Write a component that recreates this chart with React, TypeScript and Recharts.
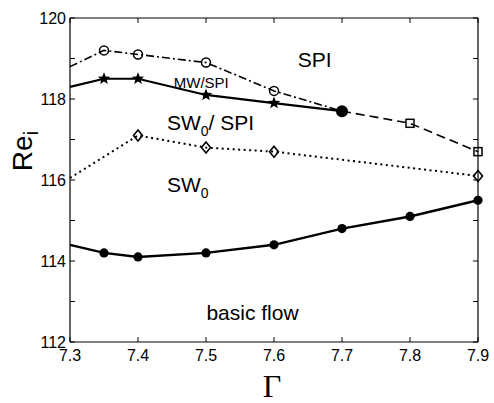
import React from 'react';
import { LineChart, Line, XAxis, YAxis, ReferenceDot } from 'recharts';

const gammaTicks = [7.3, 7.4, 7.5, 7.6, 7.7, 7.8, 7.9];
const reTicks = [112, 113, 114, 115, 116, 117, 118, 119, 120];
const reLabelTicks = [112, 114, 116, 118, 120];

const basicGamma = [7.3, 7.35, 7.4, 7.5, 7.6, 7.7, 7.8, 7.9];
const basicRe = [114.4, 114.2, 114.1, 114.2, 114.4, 114.8, 115.1, 115.5];
const sw0Gamma = [7.3, 7.4, 7.5, 7.6, 7.9];
const sw0Re = [116.05, 117.1, 116.8, 116.7, 116.1];
const mwGamma = [7.3, 7.35, 7.4, 7.5, 7.6, 7.7];
const mwRe = [118.3, 118.5, 118.5, 118.1, 117.9, 117.7];
const spiGamma = [7.3, 7.35, 7.4, 7.5, 7.6, 7.7];
const spiRe = [118.8, 119.2, 119.1, 118.9, 118.2, 117.7];
const dashGamma = [7.7, 7.8, 7.9];
const dashRe = [117.7, 117.4, 116.7];

const toRows = (g: number[], r: number[]) => g.map((x, i) => ({ g: x, re: r[i] }));

const basicData = toRows(basicGamma, basicRe);
const sw0Data = toRows(sw0Gamma, sw0Re);
const mwData = toRows(mwGamma, mwRe);
const spiData = toRows(spiGamma, spiRe);
const dashData = toRows(dashGamma, dashRe);

const X_MIN = gammaTicks[0];
const X_MAX = gammaTicks[gammaTicks.length - 1];
const Y_MIN = reTicks[0];
const Y_MAX = reTicks[reTicks.length - 1];

// layout constants
const CHART_W = 494;
const CHART_H = 403;
const MARGIN = { top: 18, right: 16, bottom: 0, left: 0 };
const XAXIS_H = 61;
const YAXIS_W = 70;
const PLOT_W = CHART_W - MARGIN.left - MARGIN.right - YAXIS_W;
const PLOT_H = CHART_H - MARGIN.top - MARGIN.bottom - XAXIS_H;
const TICK_LEN = 5;

const FONT = '"Liberation Sans", Arial, Helvetica, sans-serif';
const INK = '#000';

const empty = (p: any) => <g key={`e-${p.index}`} />;

const filledDot = (p: any) =>
  p.index === 0 ? empty(p) : <circle key={`b-${p.index}`} cx={p.cx} cy={p.cy} r={4.6} fill={INK} />;

const starPoints = (cx: number, cy: number, ro: number, ri: number) => {
  const pts: string[] = [];
  for (let k = 0; k < 10; k++) {
    const r = k % 2 === 0 ? ro : ri;
    const a = -Math.PI / 2 + (k * Math.PI) / 5;
    pts.push(`${cx + r * Math.cos(a)},${cy + r * Math.sin(a)}`);
  }
  return pts.join(' ');
};

const starDot = (p: any) =>
  p.index === 0 || p.index === mwData.length - 1 ? (
    empty(p)
  ) : (
    <polygon key={`s-${p.index}`} points={starPoints(p.cx, p.cy, 6.5, 2.8)} fill={INK} />
  );

const openCircle = (p: any) =>
  p.index === 0 || p.index === spiData.length - 1 ? (
    empty(p)
  ) : (
    <circle key={`o-${p.index}`} cx={p.cx} cy={p.cy} r={4.5} fill="none" stroke={INK} strokeWidth={1.5} />
  );

const diamondDot = (p: any) =>
  p.index === 0 ? (
    empty(p)
  ) : (
    <polygon
      key={`d-${p.index}`}
      points={`${p.cx},${p.cy - 5.5} ${p.cx + 4.5},${p.cy} ${p.cx},${p.cy + 5.5} ${p.cx - 4.5},${p.cy}`}
      fill="none"
      stroke={INK}
      strokeWidth={1.6}
    />
  );

const squareDot = (p: any) =>
  p.index === 0 ? (
    <circle key={`q-${p.index}`} cx={p.cx} cy={p.cy} r={6} fill={INK} />
  ) : (
    <rect key={`q-${p.index}`} x={p.cx - 4} y={p.cy - 4} width={8} height={8} fill="none" stroke={INK} strokeWidth={1.5} />
  );

// bottom axis tick: inward tick at bottom, mirrored tick at top, label; last tick also draws right border
const BottomTick = (p: any) => {
  const top = p.y - PLOT_H;
  const isLast = p.payload.value === X_MAX;
  return (
    <g>
      <line x1={p.x} x2={p.x} y1={p.y} y2={p.y - TICK_LEN} stroke={INK} strokeWidth={1} />
      <line x1={p.x} x2={p.x} y1={top} y2={top + TICK_LEN} stroke={INK} strokeWidth={1} />
      {isLast ? <line x1={p.x} x2={p.x} y1={p.y} y2={top} stroke={INK} strokeWidth={1.2} /> : null}
      <text x={p.x} y={p.y + 19} textAnchor="middle" fontFamily={FONT} fontSize={16} fill={INK}>
        {p.payload.value}
      </text>
    </g>
  );
};

// left axis tick: inward tick at left, mirrored tick at right, label; top tick also draws top border
const LeftTick = (p: any) => {
  const right = p.x + PLOT_W;
  const isTop = p.payload.value === Y_MAX;
  return (
    <g>
      <line x1={p.x} x2={p.x + TICK_LEN} y1={p.y} y2={p.y} stroke={INK} strokeWidth={1} />
      <line x1={right} x2={right - TICK_LEN} y1={p.y} y2={p.y} stroke={INK} strokeWidth={1} />
      {isTop ? <line x1={p.x} x2={right} y1={p.y} y2={p.y} stroke={INK} strokeWidth={1.2} /> : null}
      {reLabelTicks.includes(p.payload.value) ? (
        <text x={p.x - 4} y={p.y + 6} textAnchor="end" fontFamily={FONT} fontSize={16} fill={INK}>
          {p.payload.value}
        </text>
      ) : null}
    </g>
  );
};

const textShape = (content: React.ReactNode, anchor: string, size: number) => (p: any) => (
  <text x={p.cx} y={p.cy} textAnchor={anchor} fontFamily={FONT} fontSize={size} fill={INK}>
    {content}
  </text>
);

const YLabel = () => (
  <text
    x={32}
    y={151}
    transform="rotate(-90 32 151)"
    textAnchor="middle"
    fontFamily={FONT}
    fontSize={28}
    fill={INK}
  >
    Re
    <tspan fontSize={20} dy={6}>i</tspan>
  </text>
);

const XLabel = () => (
  <text x={272} y={397} textAnchor="middle" fontFamily='"Liberation Serif", "Times New Roman", serif' fontSize={32} fill={INK}>
    Γ
  </text>
);

export default function App() {
  return (
    <div style={{ position: 'absolute', left: 0, top: 0, width: CHART_W, height: CHART_H, background: '#fff' }}>
      <LineChart width={CHART_W} height={CHART_H} margin={MARGIN}>
        <XAxis
          dataKey="g"
          type="number"
          domain={[X_MIN, X_MAX]}
          ticks={gammaTicks}
          height={XAXIS_H}
          tickSize={0}
          tickMargin={0}
          tick={<BottomTick />}
          axisLine={{ stroke: INK, strokeWidth: 1.2 }}
          tickLine={false}
          interval={0}
          label={<XLabel />}
        />
        <YAxis
          type="number"
          domain={[Y_MIN, Y_MAX]}
          ticks={reTicks}
          width={YAXIS_W}
          tickSize={0}
          tickMargin={0}
          tick={<LeftTick />}
          axisLine={{ stroke: INK, strokeWidth: 1.2 }}
          tickLine={false}
          interval={0}
          label={<YLabel />}
        />
        <Line data={basicData} dataKey="re" stroke={INK} strokeWidth={2.4} dot={filledDot} isAnimationActive={false} />
        <Line data={sw0Data} dataKey="re" stroke={INK} strokeWidth={2} strokeDasharray="2 3.5" dot={diamondDot} isAnimationActive={false} />
        <Line data={spiData} dataKey="re" stroke={INK} strokeWidth={1.6} strokeDasharray="8 3 2 3" dot={openCircle} isAnimationActive={false} />
        <Line data={mwData} dataKey="re" stroke={INK} strokeWidth={2.2} dot={starDot} isAnimationActive={false} />
        <Line data={dashData} dataKey="re" stroke={INK} strokeWidth={1.6} strokeDasharray="9 5" dot={squareDot} isAnimationActive={false} />
        <ReferenceDot x={7.66} y={118.78} r={0} shape={textShape('SPI', 'middle', 21)} />
        <ReferenceDot x={7.493} y={118.27} r={0} shape={textShape('MW/SPI', 'middle', 15)} />
        <ReferenceDot
          x={7.4426}
          y={117.23}
          r={0}
          shape={textShape(
            <>
              SW<tspan fontSize={14} dy={6}>0</tspan>
              <tspan dy={-6}>/ SPI</tspan>
            </>,
            'start',
            21
          )}
        />
        <ReferenceDot
          x={7.4426}
          y={115.7}
          r={0}
          shape={textShape(
            <>
              SW<tspan fontSize={14} dy={6}>0</tspan>
            </>,
            'start',
            21
          )}
        />
        <ReferenceDot x={7.5684} y={112.54} r={0} shape={textShape('basic flow', 'middle', 21)} />
      </LineChart>
    </div>
  );
}
